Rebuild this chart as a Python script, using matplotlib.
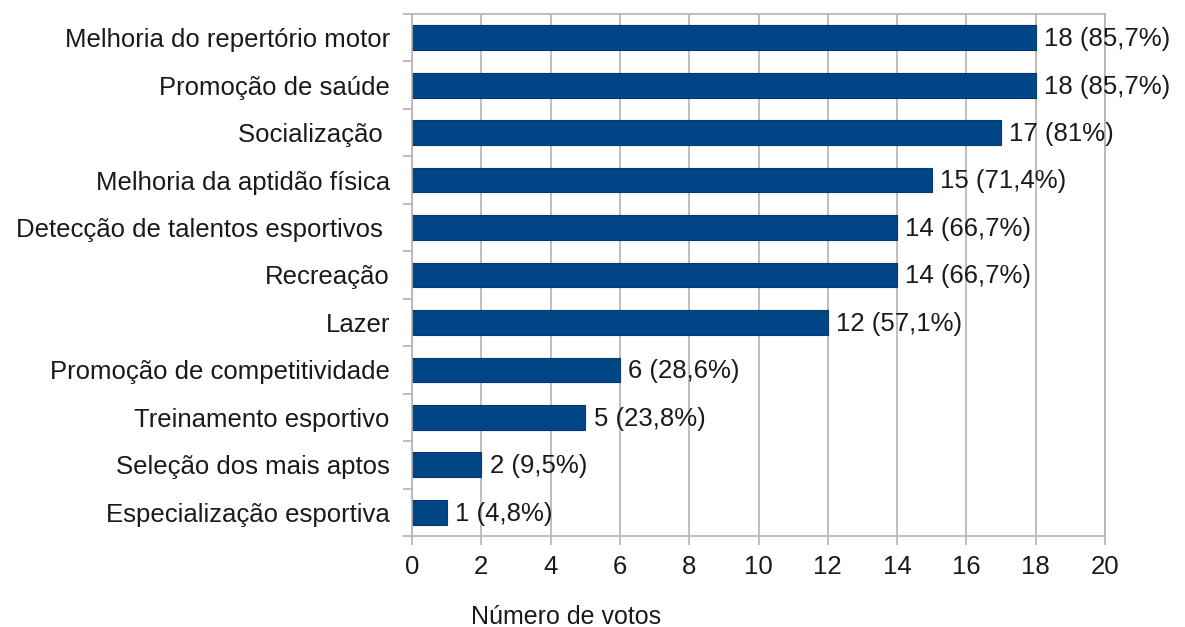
import matplotlib
matplotlib.use('Agg')
import matplotlib.pyplot as plt
import numpy as np

categorias = ['Melhoria do repertório motor', 'Promoção de saúde', 'Socialização ',
              'Melhoria da aptidão física', 'Detecção de talentos esportivos ', 'Recreação',
              'Lazer', 'Promoção de competitividade', 'Treinamento esportivo',
              'Seleção dos mais aptos', 'Especialização esportiva']
votos = [18, 18, 17, 15, 14, 14, 12, 6, 5, 2, 1]
rotulos = ['18 (85,7%)', '18 (85,7%)', '17 (81%)', '15 (71,4%)', '14 (66,7%)', '14 (66,7%)',
           '12 (57,1%)', '6 (28,6%)', '5 (23,8%)', '2 (9,5%)', '1 (4,8%)']
xticks = [0, 2, 4, 6, 8, 10, 12, 14, 16, 18, 20]

plt.rcParams['font.family'] = ['Liberation Sans', 'DejaVu Sans']
cinza = '#b3b3b3'
fs = 18.5

fig = plt.figure(figsize=(11.85, 6.27), dpi=100)
ax = fig.add_axes([412/1185, 1 - 536/627, (1105-412)/1185, (536-14)/627])

y = np.arange(len(categorias))
ax.set_axisbelow(True)
ax.grid(axis='x', color=cinza, linewidth=1.2)
ax.barh(y, votos, height=0.52, color='#004586', edgecolor='#003a70', linewidth=0.8)

# rótulos de valor à direita de cada barra
for yi, v, r in zip(y, votos, rotulos):
    ax.annotate(r, (v, yi), xytext=(6, -1), textcoords='offset points',
                va='center', ha='left', fontsize=fs, color='#1a1a1a')

ax.set_xlim(0, 20)
ax.set_ylim(len(categorias) - 0.5, -0.5)
ax.set_xticks(xticks)
ax.set_xticklabels([str(t) for t in xticks], fontsize=fs, color='#1a1a1a')
ax.set_yticks(y)
ax.set_yticklabels(categorias, fontsize=fs, color='#1a1a1a')
ax.set_yticks(np.arange(len(categorias) + 1) - 0.5, minor=True)
ax.tick_params(axis='y', which='major', length=0, pad=16)
ax.tick_params(axis='y', which='minor', length=6.5, color=cinza, width=1.2)
ax.tick_params(axis='x', length=6.5, color=cinza, width=1.2, pad=7)

for s in ax.spines.values():
    s.set_color(cinza)
    s.set_linewidth(1.2)

fig.text(566/1185, 1 - 617/627, 'Número de votos', ha='center', va='center',
         fontsize=fs - 0.5, color='#1a1a1a')

fig.savefig('out.png', dpi=100)
